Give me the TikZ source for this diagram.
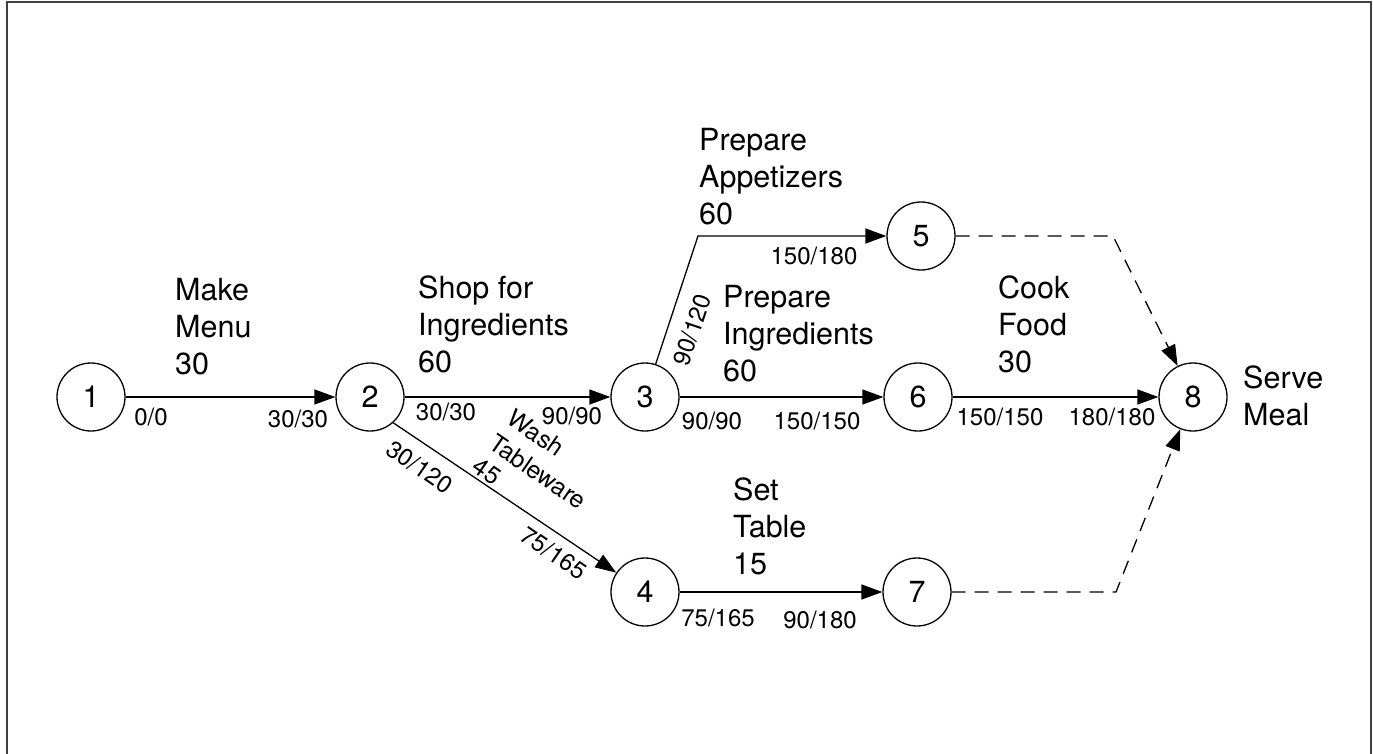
\documentclass[tikz,border=0pt]{standalone}
\usepackage{fontspec}
\setmainfont{TeX Gyre Heros}
\usetikzlibrary{arrows.meta}
\begin{document}
\begin{tikzpicture}[x=1pt,y=-1pt,
  ev/.style={circle,draw,line width=1.3pt,minimum size=68pt,inner sep=0pt,font=\fontsize{30.5}{37}\selectfont},
  act/.style={anchor=north west,inner sep=0pt,align=left,font=\fontsize{30.5}{37}\selectfont},
  rot/.style={inner sep=0pt,rotate=-34.5,font=\fontsize{24.5}{30}\selectfont},
  tm/.style={inner sep=0pt,font=\fontsize{24}{29}\selectfont},
  arr/.style={line width=1.3pt,-{Triangle[length=21pt,width=15pt]}},
  dum/.style={arr,dash pattern=on 14pt off 9pt}]
\useasboundingbox (0,0) rectangle (1373,754);
\draw[line width=2pt,black!75] (6.5,760) -- (6.5,2.5) -- (1371,2.5) -- (1371,760);

% events
\node[ev] (n1) at (91,397) {1};
\node[ev] (n2) at (370,397) {2};
\node[ev] (n3) at (645,397) {3};
\node[ev] (n4) at (645,592) {4};
\node[ev] (n5) at (921,236) {5};
\node[ev] (n6) at (918,397) {6};
\node[ev] (n7) at (917,592) {7};
\node[ev] (n8) at (1193,397) {8};

\coordinate (b35) at (698,236);
\coordinate (b58) at (1113,236);
\coordinate (b78) at (1116,592);

% activities
\draw[arr] (n1) -- (n2);
\draw[arr] (n2) -- (n3);
\draw[arr] (n3.72) -- (b35) -- (n5);
\draw[arr] (n3) -- (n6);
\draw[arr] (n2.-48) -- (n4);
\draw[arr] (n4) -- (n7);
\draw[arr] (n6) -- (n8);
\draw[dum] (n5) -- (b58) -- (n8);
\draw[dum] (n7) -- (b78) -- (n8);

% activity labels
\node[act] (lmake) at (175,277.7) {Make\\Menu\\30};
\node[act] (lshop) at (418,275.7) {Shop for\\Ingredients\\60};
\node[act] (lapp) at (699,127.7) {Prepare\\Appetizers\\60};
\node[act] (ling) at (723,284.7) {Prepare\\Ingredients\\60};
\node[act] (lcook) at (998,275.7) {Cook\\Food\\30};
\node[act] (lset) at (733,477.7) {Set\\Table\\15};
\node[act] (lserve) at (1243,365.7) {Serve\\Meal};

\node[rot] (lwash1) at (536,433) {Wash};
\node[rot] (lwash2) at (538,472) {Tableware};
\node[rot] (lwash3) at (487,471) {45};

% times
\node[tm] (t1) at (151,417) {0/0};
\node[tm] (t2) at (298,419) {30/30};
\node[tm] (t3) at (446,412) {30/30};
\node[tm] (t4) at (572,416) {90/90};
\node[tm] (t5) at (712,421) {90/90};
\node[tm] (t6) at (817,421) {150/150};
\node[tm] (t7) at (1000,417) {150/150};
\node[tm] (t8) at (1112,417) {180/180};
\node[tm] (t9) at (814,256) {150/180};
\node[tm,rotate=71.4] (t10) at (692,330) {90/120};
\node[tm,rotate=-34.5] (t11) at (420,467) {30/120};
\node[tm,rotate=-34.5] (t12) at (554,553) {75/165};
\node[tm] (t13) at (718,618) {75/165};
\node[tm] (t14) at (820,620) {90/180};
\end{tikzpicture}
\end{document}
